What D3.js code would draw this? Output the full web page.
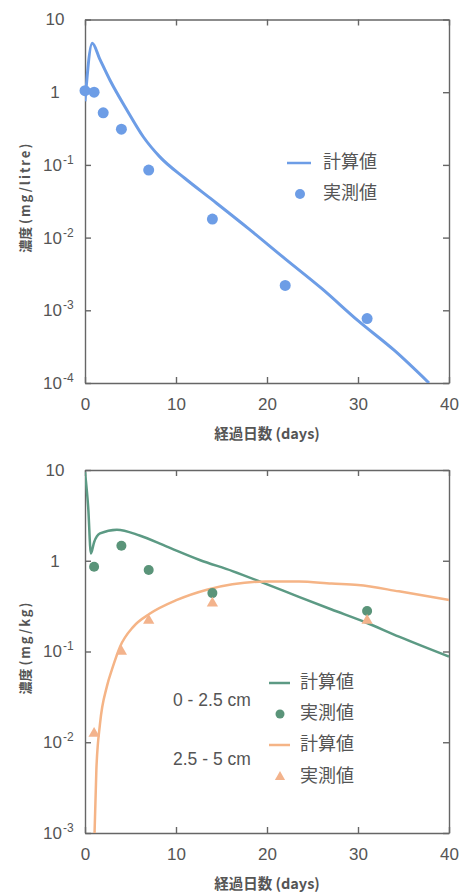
<!DOCTYPE html>
<html>
<head>
<meta charset="utf-8">
<script src="https://cdn.jsdelivr.net/npm/d3@7"></script>
<style>
  body { margin: 0; background: #fff; }
  svg { display: block; }
  .axis path, .axis line { stroke: #666; stroke-width: 1.4; }
  .axis text { fill: #555; font-family: "Liberation Sans", Arial, sans-serif; font-size: 17px; }
  .jp { font-family: "Noto Sans CJK JP", sans-serif; fill: #555; }
</style>
</head>
<body>
<svg id="chart" width="464" height="896"></svg>
<script>
// ---- data ----
const xTicks = [0, 10, 20, 30, 40];
const yTicksTop = [1e-4, 1e-3, 1e-2, 1e-1, 1, 10];
const yTicksBottom = [1e-3, 1e-2, 1e-1, 1, 10];

// top panel (water, mg/litre)
const calcDaysTop = [0, 0.8, 1.6, 2.75, 4.6, 6.4, 8.2, 11, 14, 18, 22, 26, 30, 34, 37.8];
const calcValsTop = [0.75, 4.7, 2.9, 1.46, 0.57, 0.244, 0.13, 0.065, 0.033, 0.0132, 0.0051, 0.002, 0.00072, 0.00028, 0.0001];
const measDaysTop = [0, 1, 2, 4, 7, 14, 22, 31];
const measValsTop = [1.05, 1.0, 0.52, 0.31, 0.085, 0.018, 0.0022, 0.00077];

// bottom panel (soil, mg/kg)
const calcDaysShallow = [0, 0.35, 0.65, 1.0, 1.65, 3.5, 6, 9, 12.6, 16.2, 19.8, 23.5, 27.1, 30.8, 34.5, 40];
const calcValsShallow = [9.5, 3.9, 1.2, 1.6, 2.0, 2.2, 1.9, 1.43, 1.02, 0.77, 0.56, 0.40, 0.29, 0.21, 0.146, 0.088];
const calcDaysDeep = [1.05, 1.25, 1.65, 2.4, 3.0, 3.85, 5.3, 7.1, 10.1, 13.4, 16.2, 19.8, 23.5, 27.1, 30, 34.5, 40];
const calcValsDeep = [0.001, 0.005, 0.016, 0.041, 0.065, 0.113, 0.187, 0.26, 0.37, 0.48, 0.55, 0.59, 0.59, 0.56, 0.54, 0.46, 0.37];
const measDays = [1, 4, 7, 14, 31];
const measValsShallow = [0.86, 1.46, 0.79, 0.44, 0.28];
const measValsDeep = [0.0125, 0.10, 0.22, 0.34, 0.22];

const legendCalc = "計算値";
const legendMeas = "実測値";
const depthLabels = ["0 - 2.5 cm", "2.5 - 5 cm"];

const blue = "#6d9de6", green = "#5c9a84", greenDot = "#5a9479", orange = "#f5b486", orangeTri = "#f3b38c";

const svg = d3.select("#chart");

function drawPanel(id, top, bottom, yTicks, unit) {
    const left = 85, right = 449;
    const x = d3.scaleLinear().domain([0, 40]).range([left, right]);
    const y = d3.scaleLog().domain([yTicks[0], yTicks[yTicks.length - 1]]).range([bottom, top]);
    const g = svg.append("g");

    g.append("clipPath").attr("id", "clip" + id)
        .append("rect").attr("x", left).attr("y", top)
        .attr("width", right - left).attr("height", bottom - top);

    // axes with inward ticks
    g.append("g").attr("class", "axis")
        .attr("transform", `translate(0,${bottom})`)
        .call(d3.axisBottom(x).tickValues(xTicks).tickSizeInner(-6).tickSizeOuter(0).tickPadding(15));
    g.append("g").attr("class", "axis")
        .attr("transform", `translate(0,${top})`)
        .call(d3.axisTop(x).tickValues(xTicks).tickSizeInner(-6).tickSizeOuter(0).tickFormat(""));
    g.append("g").attr("class", "axis")
        .attr("transform", `translate(${right},0)`)
        .call(d3.axisRight(y).tickValues(yTicks).tickSizeInner(-6).tickSizeOuter(0).tickFormat(""));
    const ya = g.append("g").attr("class", "axis")
        .attr("transform", `translate(${left},0)`)
        .call(d3.axisLeft(y).tickValues(yTicks).tickSizeInner(-6).tickSizeOuter(0).tickFormat(""));

    ya.selectAll(".tick text").each(function (d) {
        const t = d3.select(this);
        const e = Math.round(Math.log10(d));
        if (e >= 0) {
            t.attr("text-anchor", "middle").attr("x", -30).text(d);
        } else {
            t.attr("text-anchor", "start").attr("x", -42);
            t.append("tspan").text("10");
            t.append("tspan").attr("dy", -7).attr("dx", 1).style("font-size", "12px").text(e);
        }
    });

    // axis titles
    const yt = g.append("text").attr("class", "jp")
        .attr("transform", `translate(26,${(top + bottom) / 2 - 4}) rotate(-90)`)
        .attr("text-anchor", "middle").attr("dominant-baseline", "middle")
        .style("font-size", "13px").style("font-weight", "bold");
    yt.append("tspan").text("濃度 ");
    yt.append("tspan").style("letter-spacing", "2px").text(unit);

    const xt = g.append("text").attr("class", "jp")
        .attr("x", (left + right) / 2).attr("y", bottom + 52)
        .attr("text-anchor", "middle").attr("dominant-baseline", "middle")
        .style("font-size", "14.5px").style("font-weight", "bold");
    xt.append("tspan").text("経過日数 ");
    xt.append("tspan").text("(days)");

    return { g, x, y, clip: `url(#clip${id})` };
}

const line = (p) => d3.line().x(d => p.x(d[0])).y(d => p.y(d[1])).curve(d3.curveMonotoneX);

// ---- top panel ----
const p1 = drawPanel(1, 19.5, 383, yTicksTop, "(mg/litre)");
p1.g.append("path")
    .attr("clip-path", p1.clip)
    .attr("d", line(p1)(d3.zip(calcDaysTop, calcValsTop)))
    .attr("fill", "none").attr("stroke", blue).attr("stroke-width", 3);
p1.g.selectAll("circle.meas").data(d3.zip(measDaysTop, measValsTop)).join("circle")
    .attr("cx", d => p1.x(d[0])).attr("cy", d => p1.y(d[1]))
    .attr("r", 5.5).attr("fill", blue);

// legend top
p1.g.append("line").attr("x1", 287).attr("x2", 311).attr("y1", 163).attr("y2", 163)
    .attr("stroke", blue).attr("stroke-width", 2.5);
p1.g.append("circle").attr("cx", 300).attr("cy", 194).attr("r", 5).attr("fill", blue);
p1.g.selectAll("text.leg").data([legendCalc, legendMeas]).join("text")
    .attr("class", "jp").attr("x", 323).attr("y", (d, i) => 163 + i * 31)
    .attr("dominant-baseline", "middle").style("font-size", "18px").text(d => d);

// ---- bottom panel ----
const p2 = drawPanel(2, 470, 833, yTicksBottom, "(mg/kg)");
p2.g.append("path")
    .attr("clip-path", p2.clip)
    .attr("d", line(p2)(d3.zip(calcDaysShallow, calcValsShallow)))
    .attr("fill", "none").attr("stroke", green).attr("stroke-width", 2.5);
p2.g.append("path")
    .attr("clip-path", p2.clip)
    .attr("d", line(p2)(d3.zip(calcDaysDeep, calcValsDeep)))
    .attr("fill", "none").attr("stroke", orange).attr("stroke-width", 2.5);
p2.g.selectAll("circle.meas").data(d3.zip(measDays, measValsShallow)).join("circle")
    .attr("cx", d => p2.x(d[0])).attr("cy", d => p2.y(d[1]))
    .attr("r", 5).attr("fill", greenDot);
const tri = d3.symbol().type(d3.symbolTriangle).size(55);
p2.g.selectAll("path.tri").data(d3.zip(measDays, measValsDeep)).join("path")
    .attr("transform", d => `translate(${p2.x(d[0])},${p2.y(d[1])})`)
    .attr("d", tri).attr("fill", orangeTri);

// legend bottom
const legRows = [683, 714, 745, 777];
p2.g.append("line").attr("x1", 269).attr("x2", 290).attr("y1", legRows[0]).attr("y2", legRows[0])
    .attr("stroke", green).attr("stroke-width", 2.5);
p2.g.append("circle").attr("cx", 280).attr("cy", legRows[1]).attr("r", 4.5).attr("fill", greenDot);
p2.g.append("line").attr("x1", 269).attr("x2", 290).attr("y1", legRows[2]).attr("y2", legRows[2])
    .attr("stroke", orange).attr("stroke-width", 2.5);
p2.g.append("path").attr("transform", `translate(280,${legRows[3]})`)
    .attr("d", d3.symbol().type(d3.symbolTriangle).size(45)).attr("fill", orangeTri);
p2.g.selectAll("text.leg").data([legendCalc, legendMeas, legendCalc, legendMeas]).join("text")
    .attr("class", "jp").attr("x", 300).attr("y", (d, i) => legRows[i])
    .attr("dominant-baseline", "middle").style("font-size", "18px").text(d => d);
p2.g.selectAll("text.depth").data(depthLabels).join("text")
    .attr("x", 173).attr("y", (d, i) => 701 + i * 59)
    .attr("dominant-baseline", "middle")
    .style("font-family", "'Liberation Sans', Arial, sans-serif").style("font-size", "17.5px")
    .attr("fill", "#555").text(d => d);
</script>
</body>
</html>
